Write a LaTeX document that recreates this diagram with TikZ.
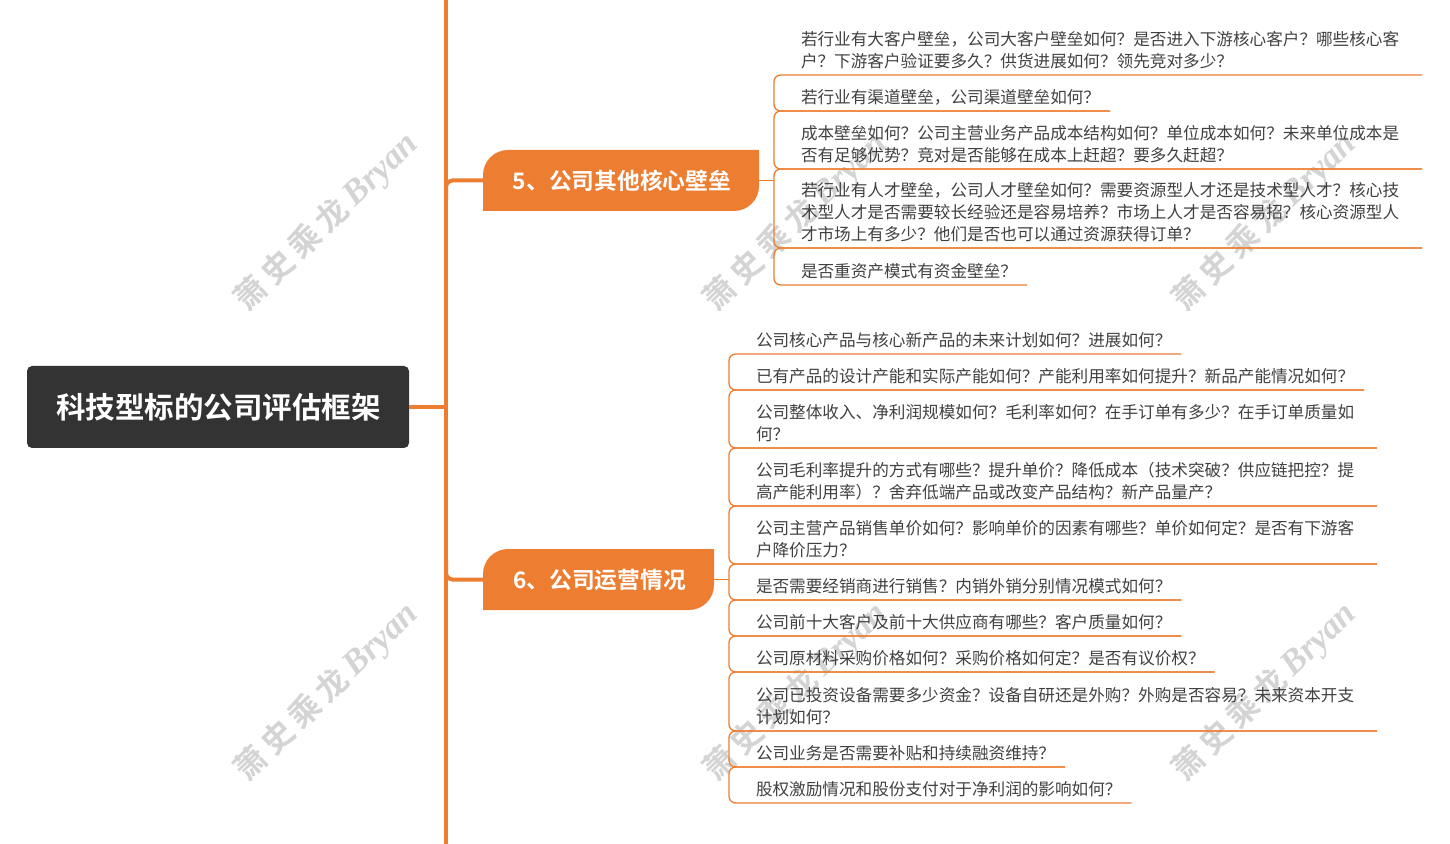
\documentclass[tikz,border=0pt]{standalone}
\usepackage{fontspec}
\setmainfont{Noto Sans CJK SC}[BoldFont={Noto Sans CJK SC Bold}]
\newfontfamily\markitalic{Liberation Serif Italic}
\definecolor{mindorange}{RGB}{237,125,49}
\definecolor{rootgray}{RGB}{51,51,51}
\definecolor{leaftext}{RGB}{64,64,64}
\definecolor{markgray}{RGB}{212,212,212}

\tikzset{
  stem/.style={draw=mindorange,line width=2.4pt},
  twig/.style={draw=mindorange,line width=0.8pt},
  rootbox/.style={fill=rootgray,text=white,rounded corners=3pt,font=\fontsize{17.7pt}{21pt}\selectfont\bfseries,minimum width=229.2pt,minimum height=49.2pt,inner sep=0pt,outer sep=0pt},
  branchbox/.style={text=white,font=\fontsize{13.65pt}{16pt}\selectfont\bfseries,minimum height=36.6pt,inner sep=0pt,outer sep=0pt,
    path picture={\fill[mindorange] (path picture bounding box.south west) [rounded corners=15pt] -- (path picture bounding box.north west) [sharp corners] -- (path picture bounding box.north east) [rounded corners=15pt] -- (path picture bounding box.south east) [sharp corners] -- cycle;}},
  leaf/.style={anchor=south west,align=left,text=leaftext,font=\fontsize{9.97pt}{13.2pt}\selectfont,inner xsep=13.8pt,inner ysep=0pt,outer sep=0pt,text depth=4.4pt},
  shortleaf/.style={leaf,execute at end node=\kern-7.8pt},
  markbox/.style={text=markgray,rotate=44,inner sep=0pt,font=\fontsize{19pt}{24pt}\selectfont\bfseries}
}

\begin{document}
\begin{tikzpicture}[x=0.6pt,y=0.6pt,yscale=-1,xscale=1]
\useasboundingbox (0,0) rectangle (1450,844);

%Watermarks
\foreach \markx/\marky/\markn in {327/222/a,796/222/b,1265/222/c,327/692/d,796/692/e,1265/692/f}
  \node[markbox] (mark\markn) at (\markx,\marky) {萧\hspace{3.5pt}史\hspace{3.5pt}乘\hspace{3.5pt}龙\hspace{3.5pt}{\markitalic\fontsize{21pt}{24pt}\selectfont Bryan}};

%Spine
\coordinate (spinetop) at (446,0);
\coordinate (spinebot) at (446,844);
\coordinate (hub5) at (446,200);
\coordinate (hub6) at (446,560);
\draw [stem] (spinetop) -- (spinebot);

%Root
\node[rootbox] (root) at (218,407) {\raisebox{-0.8pt}{\hspace{0.8pt}科技型标的公司评估框架}};
\draw [stem] (root.east) -- (root.east -| spinetop);

%Branches
\node[branchbox,minimum width=165.6pt] (b5) at (621,180.5) {\raisebox{-0.6pt}{\hspace{1.2pt}5、公司其他核心壁垒}};
\node[branchbox,minimum width=138.6pt] (b6) at (598.5,579.5) {\raisebox{-0.6pt}{\hspace{1.2pt}6、公司运营情况}};
\draw [stem,rounded corners=4pt] (b5.west) -| (hub5);
\draw [stem,rounded corners=4pt] (b6.west) -| (hub6);

%Leaves of 5
\node[leaf] (l51) at (778,75) {若行业有大客户壁垒，公司大客户壁垒如何？是否进入下游核心客户？哪些核心客\\户？下游客户验证要多久？供货进展如何？领先竞对多少？};
\node[shortleaf] (l52) at (778,111) {若行业有渠道壁垒，公司渠道壁垒如何？};
\node[leaf] (l53) at (778,169) {成本壁垒如何？公司主营业务产品成本结构如何？单位成本如何？未来单位成本是\\否有足够优势？竞对是否能够在成本上赶超？要多久赶超？};
\node[leaf] (l54) at (778,248) {若行业有人才壁垒，公司人才壁垒如何？需要资源型人才还是技术型人才？核心技\\术型人才是否需要较长经验还是容易培养？市场上人才是否容易招？核心资源型人\\才市场上有多少？他们是否也可以通过资源获得订单？};
\node[shortleaf] (l55) at (778,285) {是否重资产模式有资金壁垒？};

%Leaves of 6
\node[shortleaf] (l61) at (733,354) {公司核心产品与核心新产品的未来计划如何？进展如何？};
\node[shortleaf] (l62) at (733,390) {已有产品的设计产能和实际产能如何？产能利用率如何提升？新品产能情况如何？};
\node[leaf] (l63) at (733,448) {公司整体收入、净利润规模如何？毛利率如何？在手订单有多少？在手订单质量如\\何？};
\node[leaf] (l64) at (733,506) {公司毛利率提升的方式有哪些？提升单价？降低成本（技术突破？供应链把控？提\\高产能利用率）？舍弃低端产品或改变产品结构？新产品量产？};
\node[leaf] (l65) at (733,564) {公司主营产品销售单价如何？影响单价的因素有哪些？单价如何定？是否有下游客\\户降价压力？};
\node[shortleaf] (l66) at (733,600) {是否需要经销商进行销售？内销外销分别情况模式如何？};
\node[shortleaf] (l67) at (733,636) {公司前十大客户及前十大供应商有哪些？客户质量如何？};
\node[shortleaf] (l68) at (733,672) {公司原材料采购价格如何？采购价格如何定？是否有议价权？};
\node[leaf] (l69) at (733,731) {公司已投资设备需要多少资金？设备自研还是外购？外购是否容易？未来资本开支\\计划如何？};
\node[shortleaf] (l610) at (733,767) {公司业务是否需要补贴和持续融资维持？};
\node[shortleaf] (l611) at (733,803) {股权激励情况和股份支付对于净利润的影响如何？};

%Underlines with the bracket
\foreach \upper/\lower in {l51/l52,l52/l53,l53/l54,l54/l55,l61/l62,l62/l63,l63/l64,l64/l65,l65/l66,l66/l67,l67/l68,l68/l69,l69/l610,l610/l611}
  \draw [twig,rounded corners=4pt] (\upper.south east) -- ([xshift=-2.4pt]\upper.south west) -- ([xshift=-2.4pt]\lower.south west) -- (\lower.south east);

%Branch to bracket
\draw [twig] (b5.east) -- ([xshift=-2.4pt]b5.east -| l51.south west);
\draw [twig] (b6.east) -- ([xshift=-2.4pt]b6.east -| l61.south west);

\end{tikzpicture}
\end{document}
